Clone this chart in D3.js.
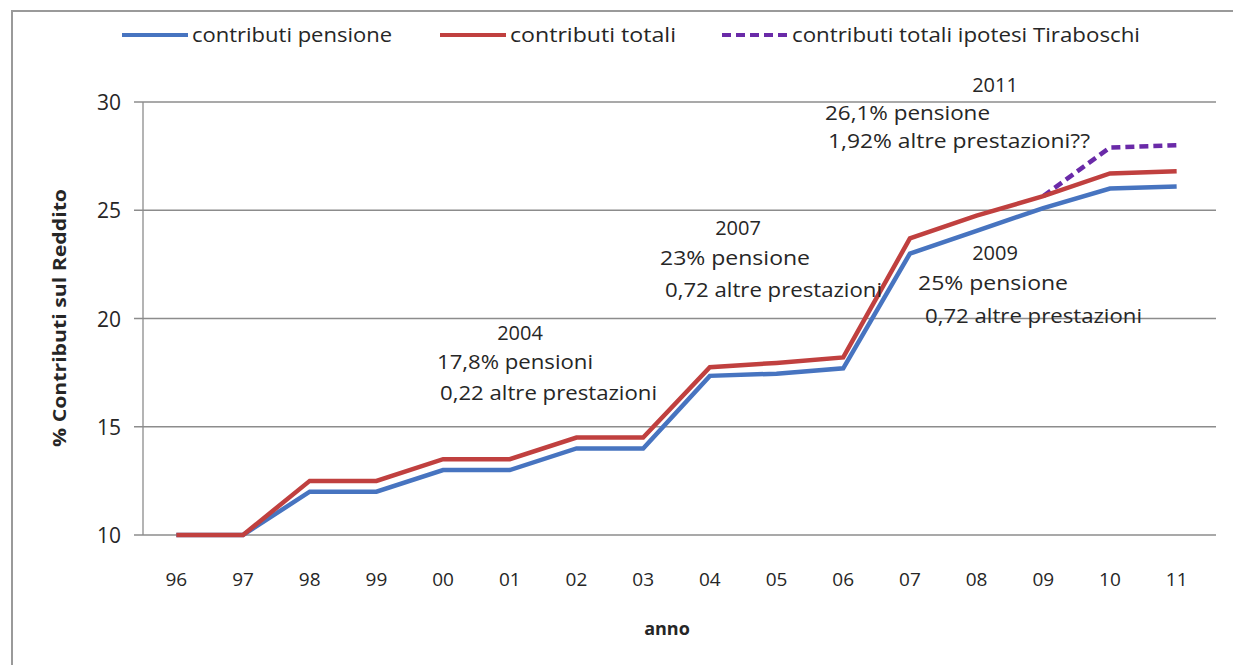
<!DOCTYPE html>
<html>
<head>
<meta charset="utf-8">
<script src="https://cdnjs.cloudflare.com/ajax/libs/d3/7.8.5/d3.min.js"></script>
<style>
  body { margin: 0; background: #fff; }
  svg text { font-family: "Open Sans", "DejaVu Sans", sans-serif; fill: #262626; }
</style>
</head>
<body>
<svg id="chart" width="1233" height="665"></svg>
<script>
// data
var anni = ["96", "97", "98", "99", "00", "01", "02", "03", "04", "05", "06", "07", "08", "09", "10", "11"];
var pensione = [10, 10, 12, 12, 13, 13, 14, 14, 17.35, 17.45, 17.7, 23.0, 24.05, 25.1, 26.0, 26.1];
var totali = [10, 10, 12.5, 12.5, 13.5, 13.5, 14.5, 14.5, 17.75, 17.95, 18.2, 23.7, 24.75, 25.65, 26.7, 26.8];
var tiraboschiAnni = ["09", "10", "11"];
var tiraboschi = [25.65, 27.9, 28.0];
var yTicks = [10, 15, 20, 25, 30];

var legendItems = [
    { label: "contributi pensione", color: "#4774c0", dash: null, x: 122, w: 200 },
    { label: "contributi totali", color: "#c0403f", dash: null, x: 440, w: 166 },
    { label: "contributi totali ipotesi Tiraboschi", color: "#6a2aa8", dash: "9,5", x: 722, w: 348 }
];

var notes = [
    { lines: ["2011", "26,1%  pensione", "1,92% altre prestazioni??"], x: [995, 825, 828], y: [92, 120, 148], anchor: ["middle", "start", "start"], w: [null, 165, 262] },
    { lines: ["2007", "23%  pensione", "0,72 altre prestazioni"], x: [738, 660, 665], y: [235, 265, 297], anchor: ["middle", "start", "start"], w: [null, 150, 217] },
    { lines: ["2009", "25%  pensione", "0,72 altre prestazioni"], x: [995, 918, 925], y: [260, 290, 323], anchor: ["middle", "start", "start"], w: [null, 150, 217] },
    { lines: ["2004", "17,8% pensioni", "0,22 altre prestazioni"], x: [520, 437, 440], y: [340, 369, 400], anchor: ["middle", "start", "start"], w: [null, 156, 217] }
];

var svg = d3.select("#chart");

var margin = { left: 143, right: 1210, top: 102, bottom: 535 };

// outer frame
svg.append("rect")
    .attr("x", 12).attr("y", 11)
    .attr("width", 1240).attr("height", 680)
    .attr("fill", "none")
    .attr("stroke", "#9a9a9a")
    .attr("stroke-width", 2);

var x = d3.scalePoint()
    .domain(anni)
    .range([margin.left, margin.right])
    .padding(0.5);

var y = d3.scaleLinear()
    .domain([10, 30])
    .range([margin.bottom, margin.top]);

// gridlines
svg.append("g")
    .selectAll("line")
    .data(yTicks)
    .enter()
    .append("line")
    .attr("x1", margin.left - 9)
    .attr("x2", margin.right + 6)
    .attr("y1", function (d) { return y(d); })
    .attr("y2", function (d) { return y(d); })
    .attr("stroke", "#8c8c8c")
    .attr("stroke-width", 1.3);

// y axis line
svg.append("line")
    .attr("x1", margin.left).attr("x2", margin.left)
    .attr("y1", y(30)).attr("y2", y(10))
    .attr("stroke", "#8c8c8c")
    .attr("stroke-width", 1.3);

svg.append("g")
    .selectAll("text")
    .data(yTicks)
    .enter()
    .append("text")
    .attr("x", 121)
    .attr("y", function (d) { return y(d) + 8; })
    .attr("text-anchor", "end")
    .attr("font-size", "21px")
    .text(function (d) { return d; });

svg.append("g")
    .selectAll("text")
    .data(anni)
    .enter()
    .append("text")
    .attr("x", function (d) { return x(d); })
    .attr("y", 586)
    .attr("text-anchor", "middle")
    .attr("font-size", "19px")
    .text(function (d) { return d; });

// axis titles
svg.append("text")
    .attr("x", 667)
    .attr("y", 635)
    .attr("text-anchor", "middle")
    .attr("font-size", "18px")
    .attr("font-weight", "bold")
    .text("anno");

svg.append("text")
    .attr("transform", "translate(66,318) rotate(-90)")
    .attr("text-anchor", "middle")
    .attr("font-size", "18px")
    .attr("font-weight", "bold")
    .attr("textLength", 258)
    .attr("lengthAdjust", "spacingAndGlyphs")
    .text("% Contributi sul Reddito");

// lines
var line = d3.line()
    .x(function (d) { return x(d[0]); })
    .y(function (d) { return y(d[1]); });

svg.append("path")
    .datum(d3.zip(anni, pensione))
    .attr("d", line)
    .attr("fill", "none")
    .attr("stroke", legendItems[0].color)
    .attr("stroke-width", 4.5);

svg.append("path")
    .datum(d3.zip(tiraboschiAnni, tiraboschi))
    .attr("d", line)
    .attr("fill", "none")
    .attr("stroke", legendItems[2].color)
    .attr("stroke-width", 4.5)
    .attr("stroke-dasharray", legendItems[2].dash);

svg.append("path")
    .datum(d3.zip(anni, totali))
    .attr("d", line)
    .attr("fill", "none")
    .attr("stroke", legendItems[1].color)
    .attr("stroke-width", 4.5);

// legend
var lg = svg.append("g").selectAll("g")
    .data(legendItems)
    .enter()
    .append("g");

lg.append("line")
    .attr("x1", function (d) { return d.x; })
    .attr("x2", function (d) { return d.x + 66; })
    .attr("y1", 35).attr("y2", 35)
    .attr("stroke", function (d) { return d.color; })
    .attr("stroke-width", 4)
    .attr("stroke-dasharray", function (d) { return d.dash; });

lg.append("text")
    .attr("x", function (d) { return d.x + 70; })
    .attr("y", 42)
    .attr("font-size", "20px")
    .attr("textLength", function (d) { return d.w; })
    .attr("lengthAdjust", "spacingAndGlyphs")
    .text(function (d) { return d.label; });

// annotations
notes.forEach(function (n) {
    n.lines.forEach(function (t, i) {
        var el = svg.append("text")
            .attr("x", n.x[i])
            .attr("y", n.y[i])
            .attr("text-anchor", n.anchor[i])
            .attr("font-size", "20px")
            .text(t);
        if (n.w[i]) {
            el.attr("textLength", n.w[i]).attr("lengthAdjust", "spacingAndGlyphs");
        }
    });
});
</script>
</body>
</html>
